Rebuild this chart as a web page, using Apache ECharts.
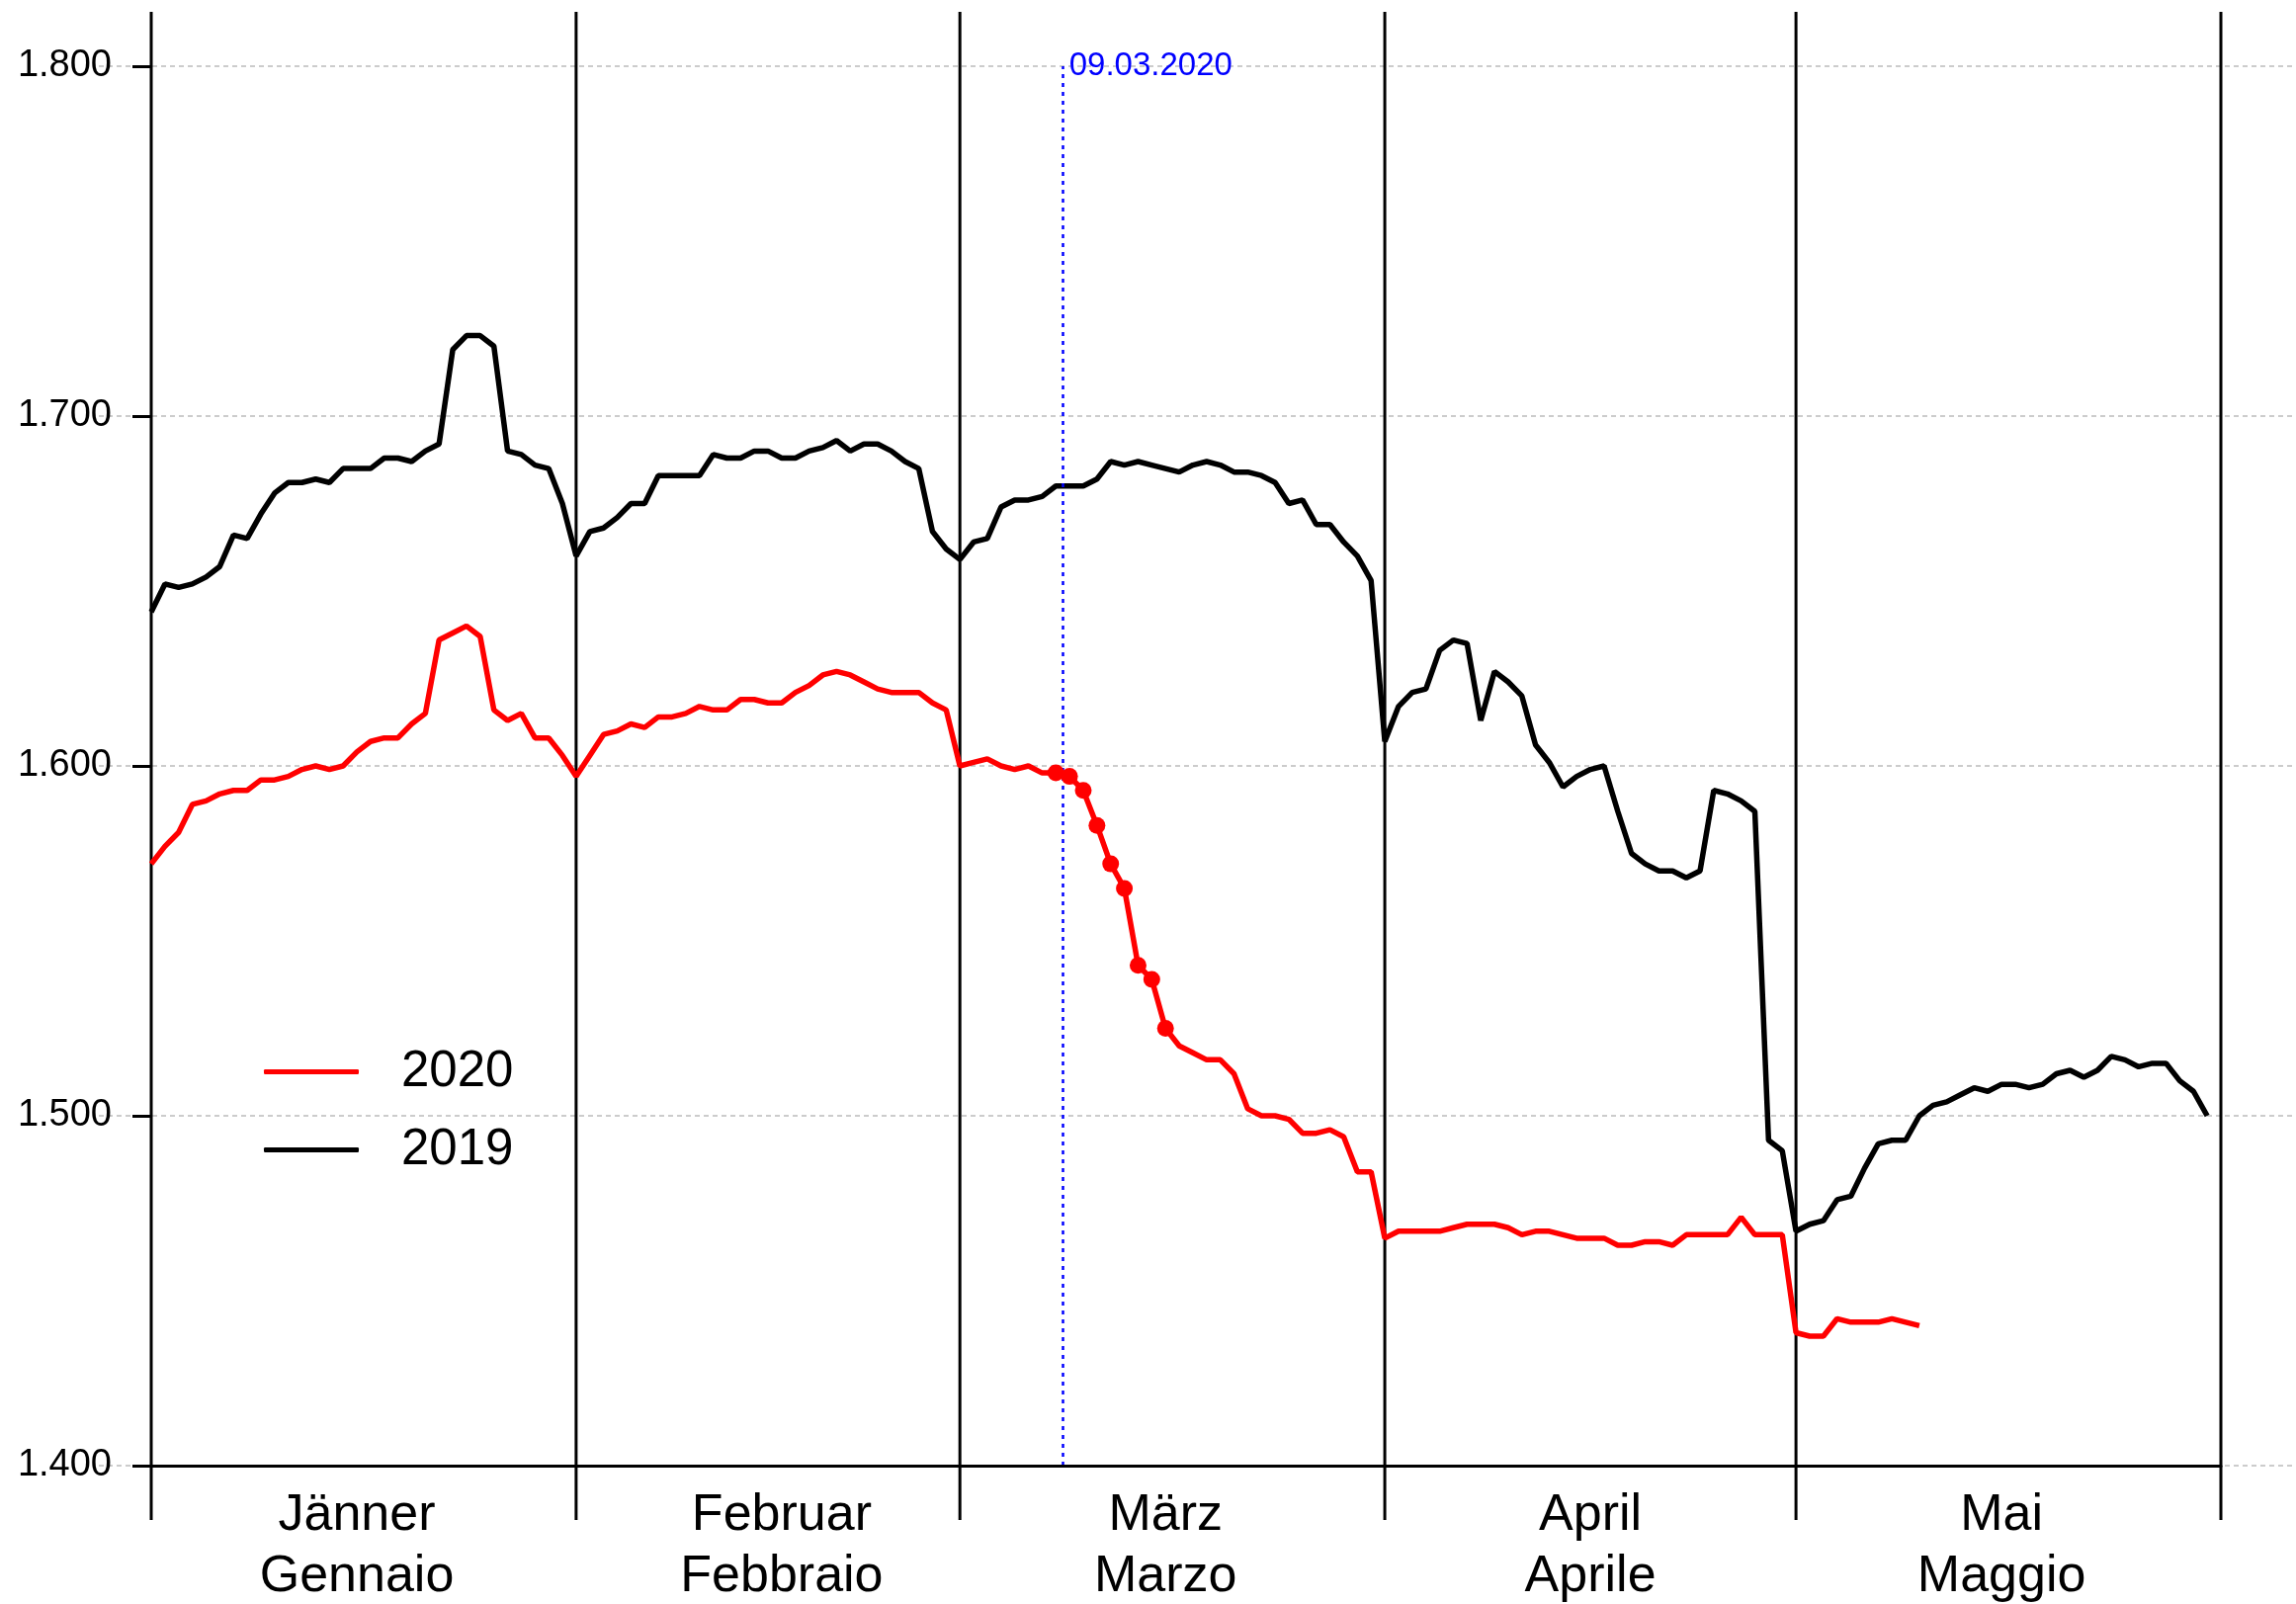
<!DOCTYPE html>
<html>
<head>
<meta charset="utf-8">
<script src="https://cdn.jsdelivr.net/npm/echarts@6/dist/echarts.min.js"></script>
<style>
html, body { margin: 0; padding: 0; background: #fff; }
#chart { width: 2323px; height: 1623px; }
</style>
</head>
<body>
<div id="chart"></div>
<script>
// day 0 = 1 January, one value per day (Jan, Feb with 28 days, Mar, Apr, May)
var values2019 = [
    1644, 1652, 1651, 1652, 1654, 1657, 1666, 1665, 1672, 1678, 1681, 1681, 1682, 1681, 1685, 1685, 1685, 1688, 1688, 1687, 1690, 1692, 1719, 1723, 1723, 1720, 1690, 1689, 1686, 1685, 1675,
    1660, 1667, 1668, 1671, 1675, 1675, 1683, 1683, 1683, 1683, 1689, 1688, 1688, 1690, 1690, 1688, 1688, 1690, 1691, 1693, 1690, 1692, 1692, 1690, 1687, 1685, 1667, 1662,
    1659, 1664, 1665, 1674, 1676, 1676, 1677, 1680, 1680, 1680, 1682, 1687, 1686, 1687, 1686, 1685, 1684, 1686, 1687, 1686, 1684, 1684, 1683, 1681, 1675, 1676, 1669, 1669, 1664, 1660, 1653,
    1607, 1617, 1621, 1622, 1633, 1636, 1635, 1613, 1627, 1624, 1620, 1606, 1601, 1594, 1597, 1599, 1600, 1587, 1575, 1572, 1570, 1570, 1568, 1570, 1593, 1592, 1590, 1587, 1493, 1490,
    1467, 1469, 1470, 1476, 1477, 1485, 1492, 1493, 1493, 1500, 1503, 1504, 1506, 1508, 1507, 1509, 1509, 1508, 1509, 1512, 1513, 1511, 1513, 1517, 1516, 1514, 1515, 1515, 1510, 1507, 1500
];
var values2020 = [
    1572, 1577, 1581, 1589, 1590, 1592, 1593, 1593, 1596, 1596, 1597, 1599, 1600, 1599, 1600, 1604, 1607, 1608, 1608, 1612, 1615, 1636, 1638, 1640, 1637, 1616, 1613, 1615, 1608, 1608, 1603,
    1597, 1603, 1609, 1610, 1612, 1611, 1614, 1614, 1615, 1617, 1616, 1616, 1619, 1619, 1618, 1618, 1621, 1623, 1626, 1627, 1626, 1624, 1622, 1621, 1621, 1621, 1618, 1616,
    1600, 1601, 1602, 1600, 1599, 1600, 1598, 1598, 1597, 1593, 1583, 1572, 1565, 1543, 1539, 1525, 1520, 1518, 1516, 1516, 1512, 1502, 1500, 1500, 1499, 1495, 1495, 1496, 1494, 1484, 1484,
    1465, 1467, 1467, 1467, 1467, 1468, 1469, 1469, 1469, 1468, 1466, 1467, 1467, 1466, 1465, 1465, 1465, 1463, 1463, 1464, 1464, 1463, 1466, 1466, 1466, 1466, 1471, 1466, 1466, 1466,
    1438, 1437, 1437, 1442, 1441, 1441, 1441, 1442, 1441, 1440
];
// days of 2020 drawn with a dot (8.3. - 16.3.)
var dotDays = [66, 67, 68, 69, 70, 71, 72, 73, 74];

var monthStart = [0, 31, 59, 90, 120, 151];
var monthMid = [15, 46, 74, 105, 135];
var monthDe = ['Jänner', 'Februar', 'März', 'April', 'Mai'];
var monthIt = ['Gennaio', 'Febbraio', 'Marzo', 'Aprile', 'Maggio'];
var yTicks = [1400, 1500, 1600, 1700, 1800];

var markerDay = 66.5;
var markerLabel = '09.03.2020';

var font = 'Liberation Sans';
var chart = echarts.init(document.getElementById('chart'));

var option = {
    animation: false,
    backgroundColor: '#fff',
    grid: {left: 153, right: 76, top: 67, bottom: 140, outerBoundsMode: 'none', containLabel: false},
    legend: {
        data: ['2020', '2019'],
        orient: 'vertical',
        left: 262,
        top: 1054,
        icon: 'roundRect',
        itemWidth: 96,
        itemHeight: 5,
        itemGap: 28,
        textStyle: {fontSize: 51, color: '#000', fontFamily: font, padding: [0, 0, 0, 38]}
    },
    xAxis: {
        type: 'value',
        min: 0,
        max: 151,
        z: 10,
        axisLine: {show: true, lineStyle: {color: '#000', width: 3}},
        axisTick: {show: false},
        splitLine: {show: false},
        axisLabel: {
            customValues: monthMid,
            margin: 20,
            fontSize: 52,
            lineHeight: 62,
            color: '#000',
            fontFamily: font,
            formatter: function (v) {
                var i = monthMid.indexOf(v);
                return i < 0 ? '' : monthDe[i] + '\n' + monthIt[i];
            }
        }
    },
    yAxis: {
        type: 'value',
        min: 1400,
        max: 1800,
        interval: 100,
        z: 10,
        axisLine: {show: false},
        axisTick: {show: true, length: 19, lineStyle: {color: '#000', width: 3}},
        splitLine: {show: false},
        axisLabel: {
            margin: 40,
            fontSize: 38,
            color: '#000',
            fontFamily: font,
            formatter: function (v) { return (v / 1000).toFixed(3); }
        }
    },
    series: [
        {
            // dashed horizontal guide lines, running past the plot on both sides
            type: 'custom',
            silent: true,
            clip: false,
            z: 1,
            data: yTicks.map(function (v) { return [0, v]; }),
            encode: {x: 0, y: 1},
            renderItem: function (params, api) {
                var p = api.coord([0, api.value(1)]);
                return {
                    type: 'line',
                    shape: {x1: p[0] - 53, y1: p[1], x2: api.getWidth(), y2: p[1]},
                    style: {stroke: '#cccccc', lineWidth: 2, lineDash: [5, 4]}
                };
            }
        },
        {
            // month separators
            type: 'custom',
            silent: true,
            clip: false,
            z: 3,
            data: monthStart.map(function (d) { return [d, 1400]; }),
            encode: {x: 0, y: 1},
            renderItem: function (params, api) {
                var d = api.value(0);
                var top = api.coord([d, 1800]);
                var bot = api.coord([d, 1400]);
                return {
                    type: 'line',
                    shape: {x1: top[0], y1: top[1] - 55, x2: bot[0], y2: bot[1] + 55},
                    style: {stroke: '#000', lineWidth: 3}
                };
            }
        },
        {
            name: '2019',
            type: 'line',
            symbol: 'none',
            z: 4,
            lineStyle: {color: '#000', width: 5.5},
            itemStyle: {color: '#000'},
            data: values2019.map(function (v, i) { return [i, v]; })
        },
        {
            name: '2020',
            type: 'line',
            symbol: 'none',
            z: 5,
            lineStyle: {color: '#ff0000', width: 5.5},
            itemStyle: {color: '#ff0000'},
            data: values2020.map(function (v, i) { return [i, v]; }),
            markLine: {
                silent: true,
                symbol: 'none',
                lineStyle: {color: '#0000ff', type: [4, 5], width: 2.5},
                label: {show: false},
                data: [[{coord: [markerDay, 1400]}, {coord: [markerDay, 1800]}]]
            },
            markPoint: {
                silent: true,
                symbol: 'circle',
                symbolSize: 1,
                itemStyle: {color: 'rgba(0,0,0,0)'},
                label: {
                    show: true,
                    position: 'right',
                    distance: 6,
                    color: '#0000ff',
                    fontSize: 33,
                    fontFamily: font,
                    formatter: markerLabel
                },
                data: [{coord: [markerDay, 1800]}]
            }
        },
        {
            name: 'dots',
            type: 'scatter',
            z: 6,
            symbolSize: 17,
            itemStyle: {color: '#ff0000', opacity: 1},
            data: dotDays.map(function (d) { return [d, values2020[d]]; })
        }
    ]
};
chart.setOption(option);
</script>
</body>
</html>
